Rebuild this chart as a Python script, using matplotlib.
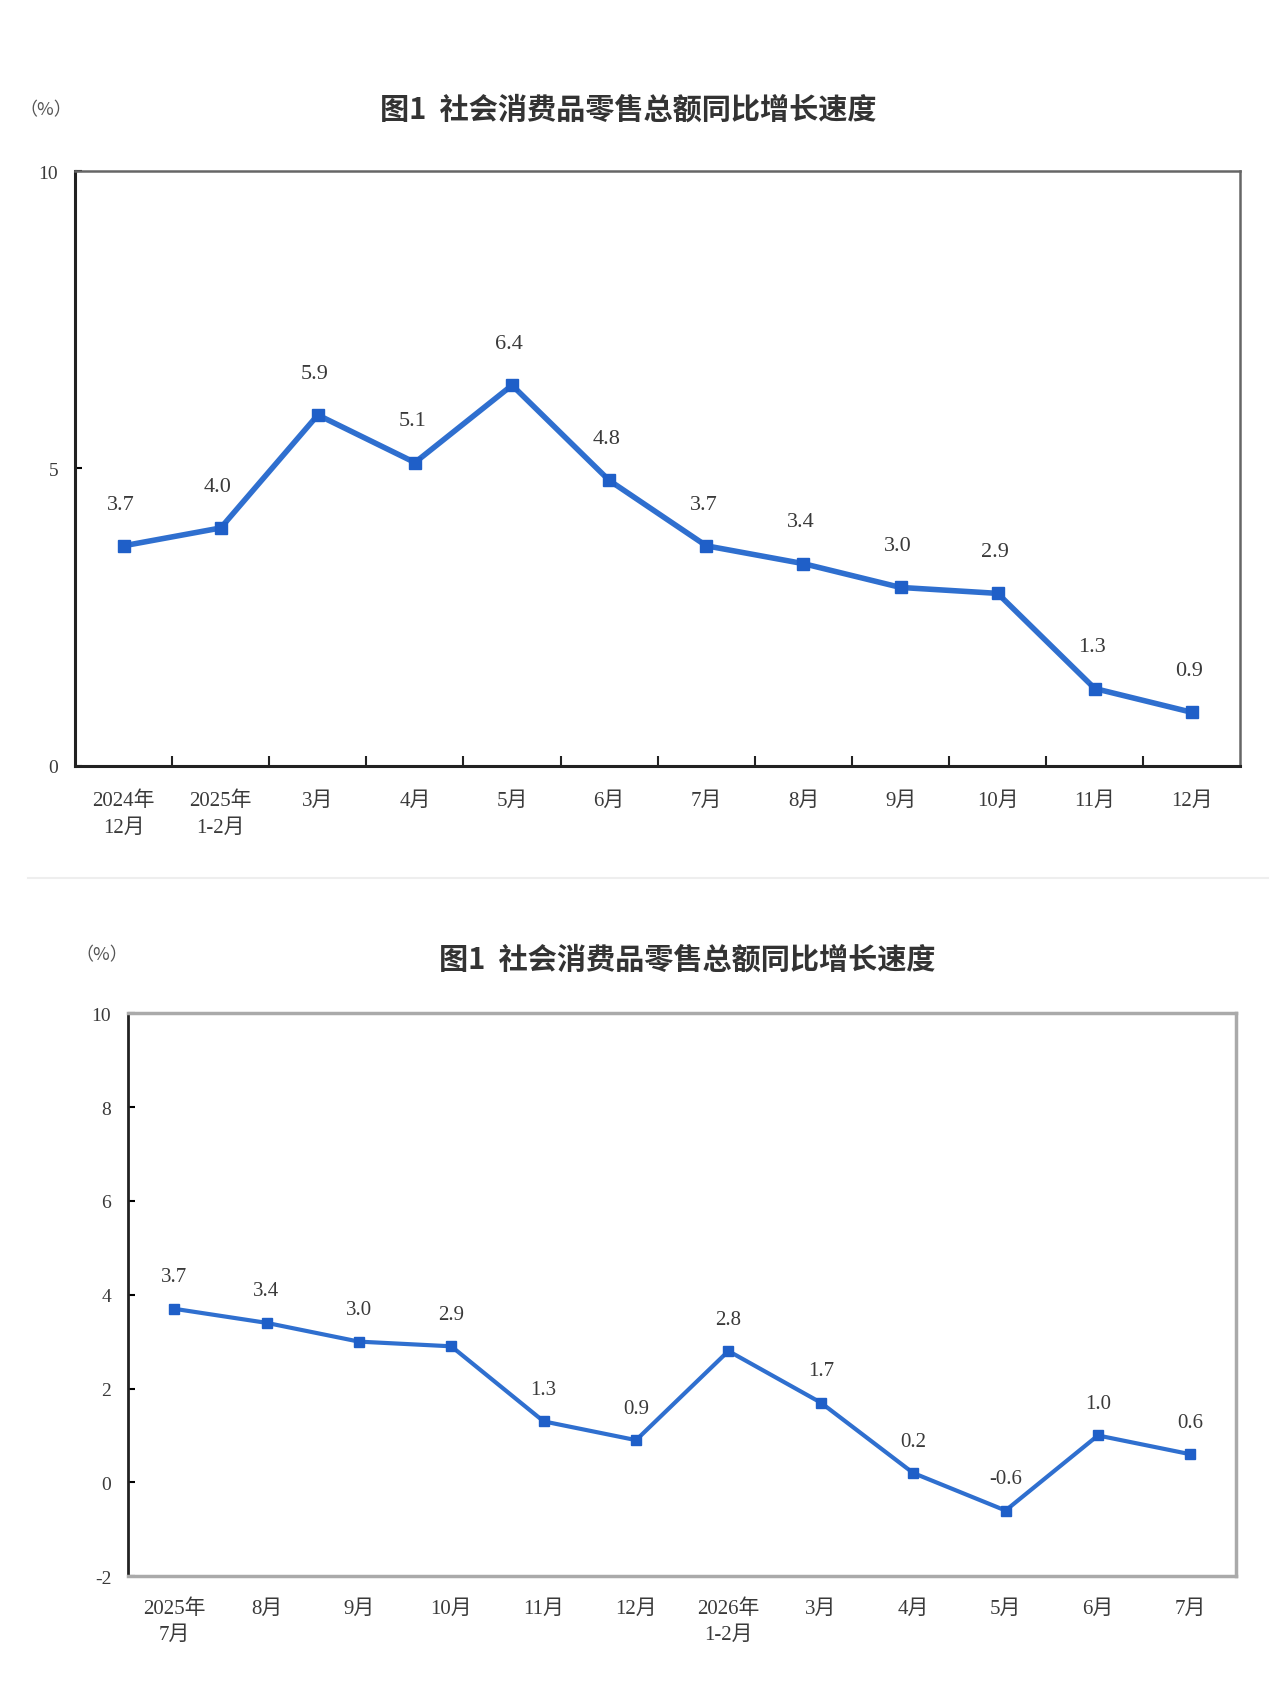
import matplotlib.pyplot as plt
import matplotlib.ticker as mticker

plt.rcParams['font.family'] = ['Liberation Serif', 'Noto Sans CJK SC', 'DejaVu Sans']
plt.rcParams['axes.unicode_minus'] = False

# 上图数据
cats1 = ["2024年\n12月", "2025年\n1-2月", "3月", "4月", "5月", "6月",
         "7月", "8月", "9月", "10月", "11月", "12月"]
vals1 = [3.7, 4.0, 5.9, 5.1, 6.4, 4.8, 3.7, 3.4, 3.0, 2.9, 1.3, 0.9]
yticks1 = [0, 5, 10]

# 下图数据
cats2 = ["2025年\n7月", "8月", "9月", "10月", "11月", "12月",
         "2026年\n1-2月", "3月", "4月", "5月", "6月", "7月"]
vals2 = [3.7, 3.4, 3.0, 2.9, 1.3, 0.9, 2.8, 1.7, 0.2, -0.6, 1.0, 0.6]
yticks2 = [-2, 0, 2, 4, 6, 8, 10]

title = "图1  社会消费品零售总额同比增长速度"
blue = "#2F6FCF"
txt = "#3a3a3a"
title_font = ['Noto Sans CJK SC', 'DejaVu Sans']

fig = plt.figure(figsize=(12.8, 17.06), dpi=100)

# ---- 上图 ----
ax1 = fig.add_axes([0.0586, 0.5505, 0.9105, 0.3486])
x1 = list(range(len(cats1)))
ax1.plot(x1, vals1, color=blue, lw=4, marker='s', ms=9, mfc="#1F5FC8", mec="#1F5FC8")
for x, v in zip(x1, vals1):
    ax1.annotate(f"{v:.1f}", (x, v), xytext=(-2, 30), textcoords='offset points',
                 ha='center', va='center', fontsize=16, color=txt)
ax1.set_xlim(-0.5, 11.5)
ax1.set_ylim(0, 10)
ax1.set_yticks(yticks1)
ax1.set_xticks(x1)
ax1.set_xticklabels(cats1)
ax1.xaxis.set_minor_locator(mticker.FixedLocator([i + 0.5 for i in range(11)]))
ax1.tick_params(axis='x', which='major', length=0, pad=18, labelsize=15, labelcolor=txt)
ax1.tick_params(axis='x', which='minor', direction='in', length=7, width=1.5, color='#222')
ax1.tick_params(axis='y', direction='in', length=5, width=1.5, pad=12, labelsize=14, labelcolor=txt)
for s in ['left', 'bottom']:
    ax1.spines[s].set_color('#222')
    ax1.spines[s].set_linewidth(2.2)
for s in ['top', 'right']:
    ax1.spines[s].set_color('#666')
    ax1.spines[s].set_linewidth(1.8)
for lab in ax1.get_xticklabels():
    lab.set_linespacing(1.5)
fig.text(0.036, 0.9355, "（%）", ha='center', va='center', fontsize=13, color='#555',
         family=title_font)
fig.text(0.491, 0.9355, title, ha='center', va='center', fontsize=21,
         fontweight='bold', family=title_font, color='#333')

# 分隔线
fig.add_artist(plt.Line2D([0.0216, 0.991], [0.4845, 0.4845], color='#eeeeee', lw=1.5))

# ---- 下图 ----
ax2 = fig.add_axes([0.100, 0.0755, 0.866, 0.3300])
x2 = list(range(len(cats2)))
ax2.plot(x2, vals2, color=blue, lw=3, marker='s', ms=7, mfc="#1F5FC8", mec="#1F5FC8")
for x, v in zip(x2, vals2):
    ax2.annotate(f"{v:.1f}", (x, v), xytext=(0, 23), textcoords='offset points',
                 ha='center', va='center', fontsize=15, color=txt)
ax2.set_xlim(-0.5, 11.5)
ax2.set_ylim(-2, 10)
ax2.set_yticks(yticks2)
ax2.set_xticks(x2)
ax2.set_xticklabels(cats2)
ax2.tick_params(axis='x', length=0, pad=16, labelsize=15, labelcolor=txt)
ax2.tick_params(axis='y', direction='in', length=5, width=1.5, pad=12, labelsize=14, labelcolor=txt)
ax2.spines['left'].set_color('#222')
ax2.spines['left'].set_linewidth(2)
for s in ['top', 'right', 'bottom']:
    ax2.spines[s].set_color('#aaaaaa')
    ax2.spines[s].set_linewidth(2.5)
for lab in ax2.get_xticklabels():
    lab.set_linespacing(1.5)
fig.text(0.0793, 0.440, "（%）", ha='center', va='center', fontsize=13, color='#555',
         family=title_font)
fig.text(0.537, 0.4373, title, ha='center', va='center', fontsize=21,
         fontweight='bold', family=title_font, color='#333')

fig.savefig("out.png", dpi=100)
